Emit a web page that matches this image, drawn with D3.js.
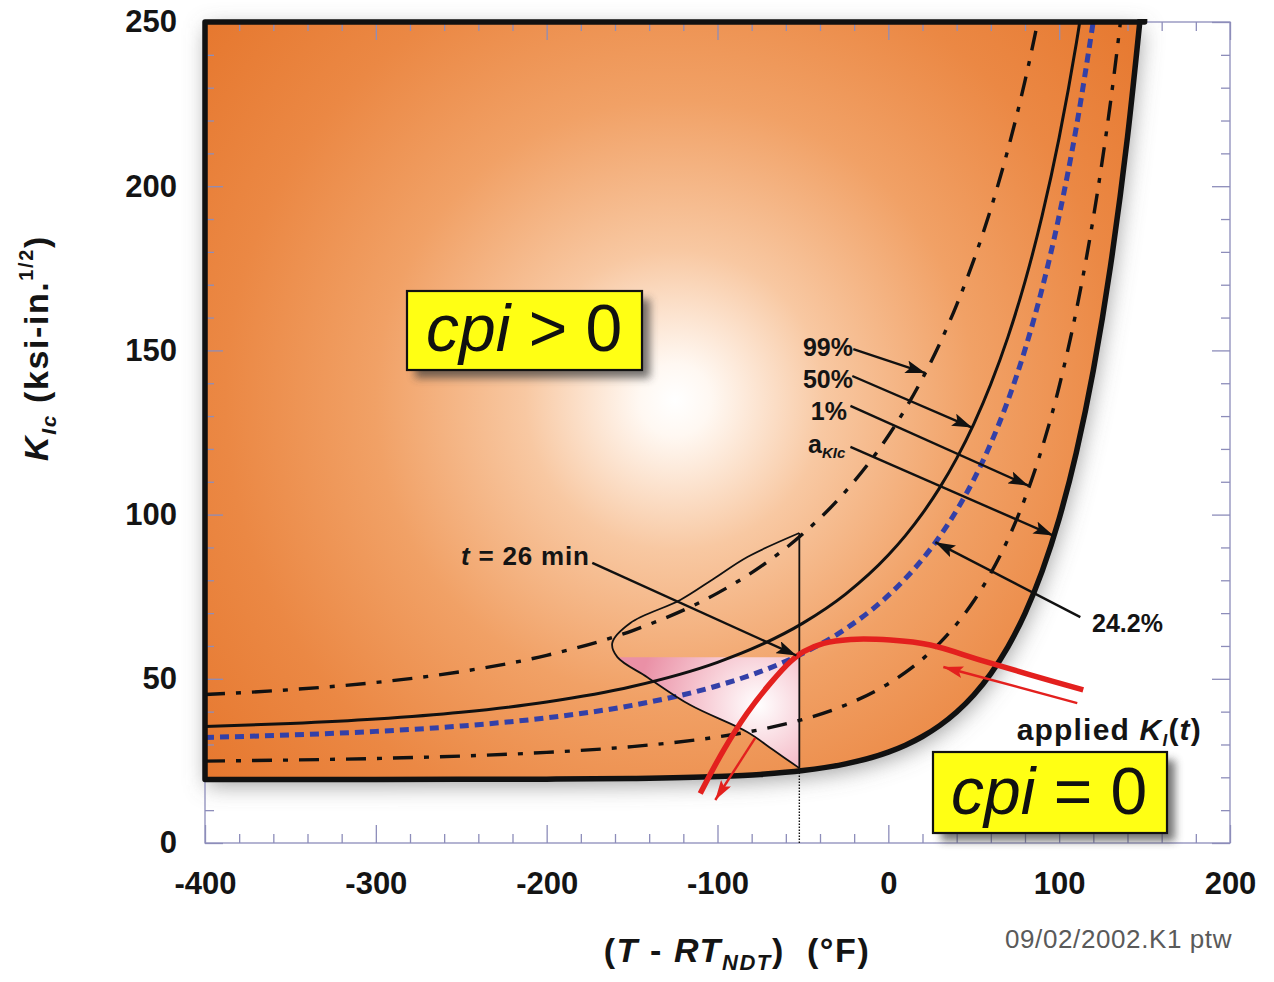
<!DOCTYPE html>
<html><head><meta charset="utf-8">
<script src="https://cdn.jsdelivr.net/npm/d3@7"></script>
<style>
body{margin:0;background:#fff}
svg{display:block}
text{font-family:"Liberation Sans",Arial,Helvetica,sans-serif;white-space:pre}
</style>
</head><body>
<svg id="c" width="1274" height="982"></svg>
<script>
// ---------- data ----------
const xTickLabels = [-400, -300, -200, -100, 0, 100, 200];
const yTickLabels = [0, 50, 100, 150, 200, 250];

const temps = [-400,-350,-300,-250,-200,-150,-100,-75,-50,-25,0,10,20,30,40,50,60,70,80,90,100,110,120,130,140,150];
// lower bound a_KIc (thick boundary)
const kA    = [19.35,19.35,19.36,19.38,19.44,19.63,20.23,20.89,22.05,24.09,27.69,29.79,32.43,35.74,39.89,45.08,51.58,59.73,69.94,82.73,98.75,118.83,143.98,175.49,214.97,264.43];
// 1% curve
const k1    = [24.94,25.26,25.74,26.47,27.59,29.36,32.30,34.54,37.63,42.03,48.50,51.93,56.00,60.86,66.69,73.70,82.17,92.46,104.98,120.28,139.02,162.04,190.38,225.34,268.56];
// 24.2% curve (blue dotted)
const k242  = [32.16,32.89,33.99,35.63,38.11,41.91,47.89,52.17,57.76,65.20,75.38,80.52,86.44,93.30,101.30,110.66,121.69,134.73,150.24,168.78,191.03,217.84,250.30];
// 50% curve
const k50   = [35.46,36.38,37.75,39.81,42.92,47.65,55.02,60.23,66.96,75.79,87.67,93.59,100.36,108.13,117.12,127.56,139.75,154.05,170.93,190.95,214.80,243.35,277.69];
// 99% curve
const k99   = [45.21,46.69,48.89,52.19,57.14,64.62,76.09,84.06,94.15,107.09,123.99,132.21,141.48,151.97,163.89,177.50,193.13,211.16,232.08,256.47];

// Weibull density sketch at t = 26 min
const pdfT = [-52.1,-82.5,-102.4,-121.8,-151.0,-161.6,-158.6,-141.1,-115.9,-82.6,-67.3,-52.1];
const pdfK = [94.4,87.1,80.4,74.0,67.0,60.9,56.6,50.5,42.0,33.8,28.3,22.8];
const pinkTopK = 56.6;
const tLineT = -52.1;

// applied K_I(t)
const redT = [114.1,83.1,53.9,24.6,1.2,-22.2,-37.9,-49.6,-57.4,-69.1,-82.7,-96.4,-110.1];
const redK = [46.6,51.2,55.7,60.3,61.8,62.0,60.8,58.3,55.2,48.6,39.5,28.3,15.1];

// ---------- scales ----------
const x = d3.scaleLinear().domain([-400, 200]).range([205, 1230]);
const y = d3.scaleLinear().domain([0, 250]).range([843, 22]);
const svg = d3.select("#c");
const defs = svg.append("defs");

// gradients
const og = defs.append("radialGradient").attr("id","og").attr("gradientUnits","userSpaceOnUse")
  .attr("cx",675).attr("cy",400).attr("r",600);
[[0,"#ffffff"],[0.06,"#fff8f2"],[0.25,"#f8c8a2"],[0.5,"#f1a166"],[0.75,"#eb8844"],[1,"#e6782f"]]
  .forEach(s=>og.append("stop").attr("offset",s[0]).attr("stop-color",s[1]));
const pg = defs.append("radialGradient").attr("id","pg").attr("gradientUnits","userSpaceOnUse")
  .attr("cx",758).attr("cy",705).attr("r",120);
[[0,"#ffffff"],[0.45,"#f7ccd5"],[1,"#ea90a6"]].forEach(s=>pg.append("stop").attr("offset",s[0]).attr("stop-color",s[1]));

const blur = defs.append("filter").attr("id","blur").attr("x","-20%").attr("y","-20%").attr("width","140%").attr("height","140%");
blur.append("feGaussianBlur").attr("stdDeviation",11);
const bshadow = defs.append("filter").attr("id","bsh").attr("x","-20%").attr("y","-40%").attr("width","140%").attr("height","180%");
bshadow.append("feGaussianBlur").attr("stdDeviation",4);

defs.append("clipPath").attr("id","plotclip").append("rect")
  .attr("x",x(-400)-4).attr("y",y(250)).attr("width",x(200)-x(-400)+4).attr("height",y(0)-y(250));
defs.append("clipPath").attr("id","bordclip").append("rect")
  .attr("x",x(-400)-4).attr("y",y(250)-3).attr("width",x(200)-x(-400)+4).attr("height",y(0)-y(250)+3);

function marker(id, color, w, h){
  defs.append("marker").attr("id",id).attr("viewBox",`0 0 ${w} ${h}`).attr("refX",w).attr("refY",h/2)
    .attr("markerWidth",w).attr("markerHeight",h).attr("markerUnits","userSpaceOnUse").attr("orient","auto")
    .append("path").attr("d",`M0,0 L${w},${h/2} L0,${h} L${w*0.2},${h/2} Z`).attr("fill",color);
}
marker("ahk","#111",20,13);
marker("ahr","#e3201e",20,12);

// ---------- orange region ----------
const regionArea = d3.area().x((d,i)=>x(temps[i])).y0((d,i)=>y(kA[i])).y1(()=>y(250)).curve(d3.curveMonotoneX);
const regionPath = regionArea(kA);

svg.append("g").attr("filter","url(#blur)").attr("transform","translate(2,6)")
  .append("path").attr("d",regionPath).attr("clip-path","url(#plotclip)").attr("fill","#6d6d6d").attr("opacity",0.65);

svg.append("path").attr("d",regionPath).attr("clip-path","url(#plotclip)").attr("fill","url(#og)");

// ---------- frame and axes ----------
const frameCol = "#8d8dba";
svg.append("rect").attr("x",x(-400)).attr("y",y(250)).attr("width",x(200)-x(-400)).attr("height",y(0)-y(250))
  .attr("fill","none").attr("stroke",frameCol).attr("stroke-width",1.3);
const minorX = d3.range(-400,201,20).filter(v=>v%100!==0);
const minorY = d3.range(0,251,10).filter(v=>v%50!==0);

function styleAxis(g){
  g.select(".domain").remove();
  g.selectAll(".tick line").attr("stroke",frameCol).attr("stroke-width",1.3);
  g.selectAll("text").attr("font-size",31).attr("font-weight","bold").attr("fill","#141414")
    .attr("font-family","'Liberation Sans',Arial,sans-serif");
}
const fmt = d=>String(d);
svg.append("g").attr("transform",`translate(0,${y(0)})`)
  .call(d3.axisBottom(x).tickValues(xTickLabels).tickSize(-18).tickPadding(29).tickFormat(fmt)).call(styleAxis);
svg.append("g").attr("transform",`translate(0,${y(0)})`)
  .call(d3.axisBottom(x).tickValues(minorX).tickSize(-9).tickFormat("")).call(styleAxis);
svg.append("g").attr("transform",`translate(${x(-400)},0)`)
  .call(d3.axisLeft(y).tickValues(yTickLabels).tickSize(-18).tickPadding(28).tickFormat(fmt)).call(styleAxis);
svg.append("g").attr("transform",`translate(${x(-400)},0)`)
  .call(d3.axisLeft(y).tickValues(minorY).tickSize(-9).tickFormat("")).call(styleAxis);
svg.append("g").attr("transform",`translate(0,${y(250)})`)
  .call(d3.axisTop(x).tickValues(xTickLabels).tickSize(-18).tickFormat("")).call(styleAxis);
svg.append("g").attr("transform",`translate(0,${y(250)})`)
  .call(d3.axisTop(x).tickValues(minorX).tickSize(-9).tickFormat("")).call(styleAxis);
svg.append("g").attr("transform",`translate(${x(200)},0)`)
  .call(d3.axisRight(y).tickValues(yTickLabels).tickSize(-18).tickFormat("")).call(styleAxis);
svg.append("g").attr("transform",`translate(${x(200)},0)`)
  .call(d3.axisRight(y).tickValues(minorY).tickSize(-9).tickFormat("")).call(styleAxis);

// ---------- pink area under density ----------
const lowerIdx = pdfK.map((k,i)=>i).filter(i=>pdfK[i]<=pinkTopK);
const pdfLine = d3.line().x(i=>x(pdfT[i])).y(i=>y(pdfK[i])).curve(d3.curveCatmullRom.alpha(0.5));
const pinkD = pdfLine(lowerIdx) + `L${x(tLineT)},${y(pinkTopK)}Z`;
svg.append("path").attr("d",pinkD).attr("fill","url(#pg)");

// ---------- percentile curves ----------
const plot = svg.append("g").attr("clip-path","url(#plotclip)");
function curve(arr){
  return d3.line().x((d,i)=>x(temps[i])).y(d=>y(d)).curve(d3.curveMonotoneX)(arr);
}
const dashDot = "20,11,5,11";
plot.append("path").attr("d",curve(k99)).attr("fill","none").attr("stroke","#111").attr("stroke-width",3.4).attr("stroke-dasharray",dashDot);
plot.append("path").attr("d",curve(k1)).attr("fill","none").attr("stroke","#111").attr("stroke-width",3.4).attr("stroke-dasharray",dashDot);
plot.append("path").attr("d",curve(k50)).attr("fill","none").attr("stroke","#111").attr("stroke-width",3);
plot.append("path").attr("d",curve(k242)).attr("fill","none").attr("stroke","#3340a8").attr("stroke-width",5).attr("stroke-dasharray","9,6");

// density curve and vertical line at t = 26 min
svg.append("path").attr("d",pdfLine(d3.range(pdfK.length))).attr("fill","none").attr("stroke","#111").attr("stroke-width",1.8);
svg.append("line").attr("x1",x(tLineT)).attr("x2",x(tLineT)).attr("y1",y(kA[8]+0.7)).attr("y2",y(94.4))
  .attr("stroke","#111").attr("stroke-width",1.8);
svg.append("line").attr("x1",x(tLineT)).attr("x2",x(tLineT)).attr("y1",y(0)).attr("y2",y(kA[8]+0.7))
  .attr("stroke","#111").attr("stroke-width",1.4).attr("stroke-dasharray","1.5,1.5");

// thick boundary
svg.append("path").attr("d",regionPath).attr("clip-path","url(#bordclip)").attr("fill","none")
  .attr("stroke","#111").attr("stroke-width",5.5).attr("stroke-linejoin","round");

// ---------- applied K_I(t) ----------
svg.append("path").attr("d",d3.line().x((d,i)=>x(redT[i])).y(d=>y(d)).curve(d3.curveCatmullRom.alpha(0.5))(redK))
  .attr("fill","none").attr("stroke","#e3201e").attr("stroke-width",5.5).attr("stroke-linecap","butt");
function arrow(t1,k1_,t2,k2_,col,w,m){
  svg.append("line").attr("x1",x(t1)).attr("y1",y(k1_)).attr("x2",x(t2)).attr("y2",y(k2_))
    .attr("stroke",col).attr("stroke-width",w).attr("marker-end",`url(#${m})`);
}
arrow(110.6,42.6,32.2,53.6,"#e3201e",2.4,"ahr");
arrow(-77.9,32.0,-101.3,13.1,"#e3201e",2.4,"ahr");

// ---------- annotations ----------
arrow(-20.5,150.4,21.7,143.1,"#111",2.4,"ahk");
arrow(-21.1,142.2,49.0,126.5,"#111",2.4,"ahk");
arrow(-22.2,133.1,82.0,108.8,"#111",2.4,"ahk");
arrow(-22.2,120.6,96.6,93.6,"#111",2.4,"ahk");
arrow(112.4,68.8,27.5,91.6,"#111",2.4,"ahk");
arrow(-173.3,85.3,-53.8,57.1,"#111",2.4,"ahk");

function label(xp, yp, anchor, size, parts, opts={}){
  const t = svg.append("text").attr("x",xp).attr("y",yp).attr("text-anchor",anchor)
    .attr("font-size",size).attr("font-weight",opts.weight||"bold").attr("fill",opts.fill||"#141414");
  if(opts.ls) t.attr("letter-spacing",opts.ls);
  parts.forEach(p=>{
    const s = t.append("tspan").text(p.t);
    if(p.i) s.attr("font-style","italic");
    if(p.s) s.attr("font-size",p.s);
    if(p.dy) s.attr("dy",p.dy);
  });
  return t;
}
label(853,356,"end",25,[{t:"99%"}]);
label(853,388,"end",25,[{t:"50%"}]);
label(847,420,"end",25,[{t:"1%"}]);
label(808,453,"start",25,[{t:"a"},{t:"KIc",i:1,s:15,dy:5}]);
label(1092,632,"start",25,[{t:"24.2%"}]);
label(461,565,"start",26,[{t:"t",i:1},{t:" = 26 min"}],{ls:0.8});
label(1202,740,"end",30,[{t:"applied "},{t:"K",i:1},{t:"I",i:1,s:17,dy:6},{t:"(",dy:-6},{t:"t",i:1},{t:")"}],{ls:1.2});
label(1005,948,"start",26,[{t:"09/02/2002.K1 ptw"}],{weight:"normal",fill:"#5a5a5a",ls:0.6});

// axis titles
label(737,962,"middle",34,[{t:"("},{t:"T",i:1},{t:" - "},{t:"RT",i:1},{t:"NDT",i:1,s:22,dy:8},{t:")",dy:-8},{t:"  (°F)"}],{ls:1.6});
const yt = svg.append("text").attr("transform","translate(48,348) rotate(-90)").attr("text-anchor","middle")
  .attr("font-size",34).attr("font-weight","bold").attr("fill","#141414").attr("letter-spacing",1.6);
yt.append("tspan").attr("font-style","italic").text("K");
yt.append("tspan").attr("font-style","italic").attr("font-size",21).attr("dy",8).text("Ic");
yt.append("tspan").attr("dy",-8).text(" (ksi-in.");
yt.append("tspan").attr("font-size",20).attr("dy",-15).text("1/2");
yt.append("tspan").attr("dy",15).text(")");

// ---------- yellow boxes ----------
function box(bx,by,bw,bh,tx,ty,rest){
  svg.append("rect").attr("x",bx+8).attr("y",by+8).attr("width",bw).attr("height",bh)
    .attr("fill","#3a3a3a").attr("opacity",0.7).attr("filter","url(#bsh)");
  svg.append("rect").attr("x",bx).attr("y",by).attr("width",bw).attr("height",bh)
    .attr("fill","#ffff14").attr("stroke","#111").attr("stroke-width",2.2);
  const t = svg.append("text").attr("x",tx).attr("y",ty).attr("font-size",66).attr("fill","#111");
  t.append("tspan").attr("font-style","italic").text("cpi");
  t.append("tspan").text(rest);
}
box(407,291,235,79,426,351," > 0");
box(933,752,234,81,951,814," = 0");
</script>
</body></html>
